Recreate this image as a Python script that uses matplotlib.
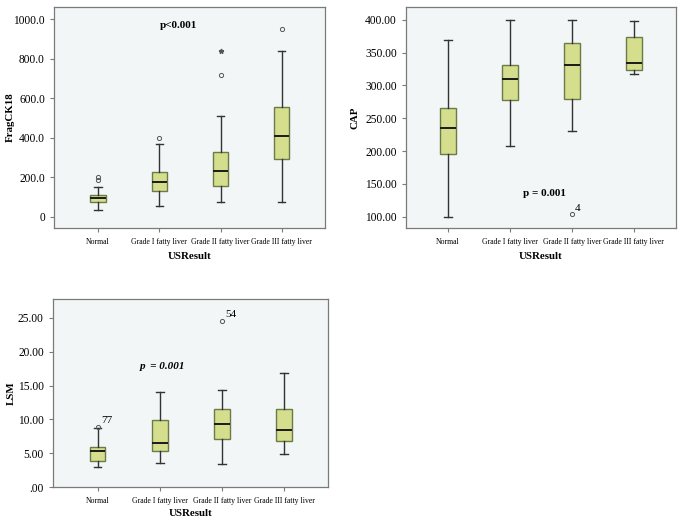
import numpy as np
import matplotlib
matplotlib.use('Agg')
from matplotlib import pyplot as plt

plt.rcParams['font.family'] = ['Liberation Serif', 'DejaVu Serif']

CATS = ['Normal', 'Grade I fatty liver', 'Grade II fatty liver', 'Grade III fatty liver']

# FragCK18: whislo, q1, med, q3, whishi
frag_lo = [34, 54, 76, 76]
frag_q1 = [76, 129, 156, 291]
frag_med = [93, 178, 230, 409]
frag_q3 = [108, 228, 327, 555]
frag_hi = [149, 370, 509, 839]
frag_out = [[188, 200], [398], [719], [951]]
frag_extreme = [[], [], [839], []]

# CAP
cap_lo = [100, 208, 231, 318]
cap_q1 = [195, 278, 280, 324]
cap_med = [235, 310, 332, 335]
cap_q3 = [266, 331, 365, 374]
cap_hi = [370, 400, 400, 399]
cap_out = [[], [], [104], []]
cap_out_lbl = [[], [], ['4'], []]

# LSM
lsm_lo = [3.0, 3.6, 3.45, 4.95]
lsm_q1 = [3.86, 5.35, 7.03, 6.83]
lsm_med = [5.25, 6.5, 9.35, 8.45]
lsm_q3 = [5.84, 9.9, 11.5, 11.5]
lsm_hi = [8.7, 14.1, 14.3, 16.8]
lsm_out = [[8.9], [], [24.6], []]
lsm_out_lbl = [['77'], [], ['54'], []]

BOX_FC = '#d4de8c'
BOX_EC = '#6a7a48'
BG = '#f2f6f6'
SPINE = '#7a7a7a'


def draw(ax, lo, q1, med, q3, hi, out, ylim, ticks, ticklabels, ylabel, ylab_x, xlab_y):
    stats = []
    for i in range(len(CATS)):
        stats.append(dict(whislo=lo[i], q1=q1[i], med=med[i], q3=q3[i],
                          whishi=hi[i], fliers=out[i]))
    ax.set_facecolor(BG)
    ax.bxp(stats, positions=range(len(CATS)), widths=0.25, capwidths=0.12,
           patch_artist=True, showfliers=True,
           boxprops=dict(facecolor=BOX_FC, edgecolor=BOX_EC, linewidth=1.0),
           medianprops=dict(color='#1a1a1a', linewidth=1.4),
           whiskerprops=dict(color='#333333', linewidth=1.0),
           capprops=dict(color='#333333', linewidth=1.0),
           flierprops=dict(marker='o', markersize=3, markerfacecolor='none',
                           markeredgecolor='#555555', markeredgewidth=0.7))
    ax.set_xlim(-0.72, 3.7)
    ax.set_ylim(*ylim)
    ax.set_yticks(ticks)
    ax.set_yticklabels(ticklabels, fontsize=8.3)
    ax.set_xticks(range(len(CATS)))
    ax.set_xticklabels(CATS, fontsize=5.6)
    ax.tick_params(axis='both', direction='out', length=3, color=SPINE, width=0.8)
    ax.tick_params(axis='x', pad=4)
    for s in ax.spines.values():
        s.set_color(SPINE)
        s.set_linewidth(0.9)
    ax.set_ylabel(ylabel, fontsize=7.8, fontweight='bold')
    ax.set_xlabel('USResult', fontsize=7.8, fontweight='bold')
    ax.yaxis.set_label_coords(ylab_x, 0.5)
    ax.xaxis.set_label_coords(0.5, xlab_y)


fig = plt.figure(figsize=(6.87, 5.24), dpi=100)

ax1 = fig.add_axes([0.0786, 0.565, 0.394, 0.422])
draw(ax1, frag_lo, frag_q1, frag_med, frag_q3, frag_hi, frag_out,
     (-57, 1064), [0, 200, 400, 600, 800, 1000],
     ['0', '200.0', '400.0', '600.0', '800.0', '1000.0'], 'FragCK18', -0.144, -0.109)
for i, vals in enumerate(frag_extreme):
    for v in vals:
        ax1.plot(i, v, marker='*', markersize=3.5, color='#555555', linestyle='none')
ax1.text(1.31, 970, 'p<0.001', fontsize=8, fontweight='bold', ha='center', va='center')

ax2 = fig.add_axes([0.591, 0.565, 0.393, 0.422])
draw(ax2, cap_lo, cap_q1, cap_med, cap_q3, cap_hi, cap_out,
     (82.7, 420), [100, 150, 200, 250, 300, 350, 400],
     ['100.00', '150.00', '200.00', '250.00', '300.00', '350.00', '400.00'], 'CAP',
     -0.174, -0.109)
ax2.set_xlim(-0.68, 3.68)
for i, lbls in enumerate(cap_out_lbl):
    for v, t in zip(cap_out[i], lbls):
        ax2.text(i + 0.04, v + 2, t, fontsize=8, ha='left', va='bottom')
ax2.text(1.55, 135, 'p = 0.001', fontsize=8, fontweight='bold', ha='center', va='center')

ax3 = fig.add_axes([0.077, 0.0706, 0.4, 0.359])
draw(ax3, lsm_lo, lsm_q1, lsm_med, lsm_q3, lsm_hi, lsm_out,
     (0, 27.8), [0, 5, 10, 15, 20, 25],
     ['.00', '5.00', '10.00', '15.00', '20.00', '25.00'], 'LSM', -0.134, -0.117)
for i, lbls in enumerate(lsm_out_lbl):
    for v, t in zip(lsm_out[i], lbls):
        ax3.text(i + 0.05, v + 0.3, t, fontsize=8, ha='left', va='bottom')
ax3.text(1.05, 17.8, 'p  = 0.001', fontsize=8, fontweight='bold', fontstyle='italic',
         ha='center', va='center')

fig.savefig('out.png', dpi=100)
